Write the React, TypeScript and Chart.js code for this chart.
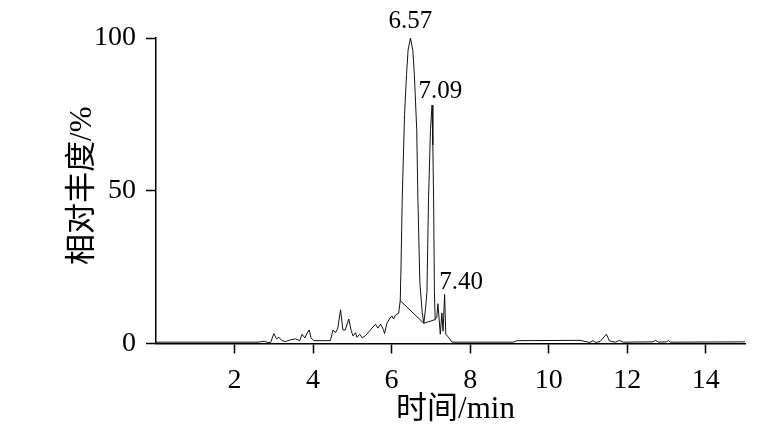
import React, { useEffect, useRef } from "react";
import { Chart, registerables } from "chart.js";

Chart.register(...registerables);

const traceX = [
  0, 2.6, 2.75, 2.85, 2.92, 3.0, 3.07, 3.13, 3.21, 3.3, 3.43, 3.55, 3.66, 3.72, 3.79, 3.85, 3.9, 3.95, 4.02,
  4.44, 4.51, 4.57, 4.63, 4.7, 4.76, 4.82, 4.91, 4.97, 5.02, 5.08, 5.12, 5.19, 5.25, 5.34, 5.46, 5.59, 5.65,
  5.72, 5.79, 5.82, 5.88, 5.96, 6.01, 6.05, 6.1, 6.18, 6.22, 6.24, 6.27, 6.33, 6.38, 6.42, 6.48, 6.54, 6.58,
  6.64, 6.67, 6.72, 6.78, 6.82, 6.87, 6.9, 6.94, 6.99, 7.03, 7.05, 7.07, 7.09, 7.11, 7.15, 7.18, 7.21, 7.24,
  7.28, 7.31, 7.35, 7.38, 7.45, 7.54, 9.1, 9.2, 10.8, 11.05, 11.13, 11.2, 11.31, 11.47, 11.55, 11.7, 11.8,
  11.9, 12.65, 12.72, 12.8, 13.0, 13.05, 13.1, 15,
];
const traceY = [
  0.4, 0.4, 0.7, 0.3, 0.3, 3.2, 1.5, 2.0, 0.9, 0.6, 1.2, 1.5, 0.9, 3.0, 1.8, 3.4, 4.4, 1.8, 0.9,
  0.9, 4.4, 3.5, 5.0, 11.0, 4.4, 4.4, 8.0, 4.2, 2.4, 3.5, 2.0, 3.0, 1.8, 2.6, 4.4, 6.3, 5.0,
  6.3, 4.6, 3.2, 6.6, 8.3, 9.0, 8.0, 9.3, 9.9, 14, 25, 47, 75, 88, 96, 100, 96, 88,
  70, 47, 20, 10, 6.6, 12, 17, 47, 70, 78, 65, 47, 17, 7.8, 8.5, 13, 8, 3,
  10, 4, 16, 3, 2, 0.4, 0.4, 0.9, 1.0, 0.3, 0.9, 0.3, 0.6, 3.0, 0.8, 0.4, 1.0,
  0.4, 0.5, 1.0, 0.4, 0.5, 1.0, 0.4, 0.5,
];

const baseX = [6.22, 6.82, 7.11];
const baseY = [14, 6.6, 7.8];

const peakLabels = ["6.57", "7.09", "7.40"];
const peakLabelX = [6.48, 7.24, 7.77];
const peakLabelY = [103.3, 80.3, 17.8];

const xTicks = [2, 4, 6, 8, 10, 12, 14];
const yTicks = [0, 50, 100];

const xTitle = "时间/min";
const yTitle = "相对丰度/%";

const FONT = '"Liberation Serif", "Noto Sans CJK SC", serif';

export default function App() {
  const ref = useRef<HTMLCanvasElement | null>(null);

  useEffect(() => {
    if (!ref.current) return;
    const textPlugin = {
      id: "texts",
      afterDraw(chart: any) {
        const ctx = chart.ctx;
        const xs = chart.scales.x;
        const ys = chart.scales.y;
        const ca = chart.chartArea;
        ctx.save();
        ctx.fillStyle = "#000";
        ctx.font = `25px ${FONT}`;
        ctx.textAlign = "center";
        ctx.textBaseline = "alphabetic";
        peakLabels.forEach((t, i) => {
          ctx.fillText(t, xs.getPixelForValue(peakLabelX[i]), ys.getPixelForValue(peakLabelY[i]));
        });
        ctx.font = `31px ${FONT}`;
        ctx.textBaseline = "middle";
        ctx.fillText(xTitle, (ca.left + ca.right) / 2 + 5, 410);
        ctx.translate(83, (ca.top + ca.bottom) / 2 - 5);
        ctx.rotate(-Math.PI / 2);
        ctx.fillText(yTitle, 0, 0);
        ctx.restore();
      },
    };

    const chart = new Chart(ref.current, {
      type: "scatter",
      data: {
        datasets: [
          {
            data: traceX.map((x, i) => ({ x, y: traceY[i] })),
            showLine: true,
            borderColor: "#111",
            borderWidth: 1,
            pointRadius: 0,
            tension: 0,
          },
          {
            data: baseX.map((x, i) => ({ x, y: baseY[i] })),
            showLine: true,
            borderColor: "#111",
            borderWidth: 1,
            pointRadius: 0,
            tension: 0,
          },
        ],
      },
      options: {
        animation: false,
        responsive: false,
        layout: { padding: { left: 84, right: 15, top: 38, bottom: 29 } },
        plugins: { legend: { display: false }, tooltip: { enabled: false }, title: { display: false } },
        scales: {
          x: {
            type: "linear",
            min: 0,
            max: 15,
            afterBuildTicks: (s: any) => {
              s.ticks = xTicks.map((v) => ({ value: v }));
            },
            border: { display: true, color: "#000", width: 1.5 },
            grid: { drawOnChartArea: false, drawTicks: true, tickLength: 10, tickColor: "#000", tickWidth: 1.5 },
            ticks: { color: "#000", font: { family: FONT, size: 28 }, padding: 10, maxRotation: 0 },
          },
          y: {
            type: "linear",
            min: 0,
            max: 100,
            afterBuildTicks: (s: any) => {
              s.ticks = yTicks.map((v) => ({ value: v }));
            },
            border: { display: true, color: "#000", width: 1.5 },
            grid: { drawOnChartArea: false, drawTicks: true, tickLength: 10, tickColor: "#000", tickWidth: 1.5 },
            ticks: { color: "#000", font: { family: FONT, size: 28 }, padding: 10 },
          },
        },
      },
      plugins: [textPlugin],
    });
    return () => chart.destroy();
  }, []);

  return (
    <div style={{ position: "fixed", left: 0, top: 0, width: 760, height: 436, background: "#fff" }}>
      <canvas ref={ref} width={760} height={436} />
    </div>
  );
}
